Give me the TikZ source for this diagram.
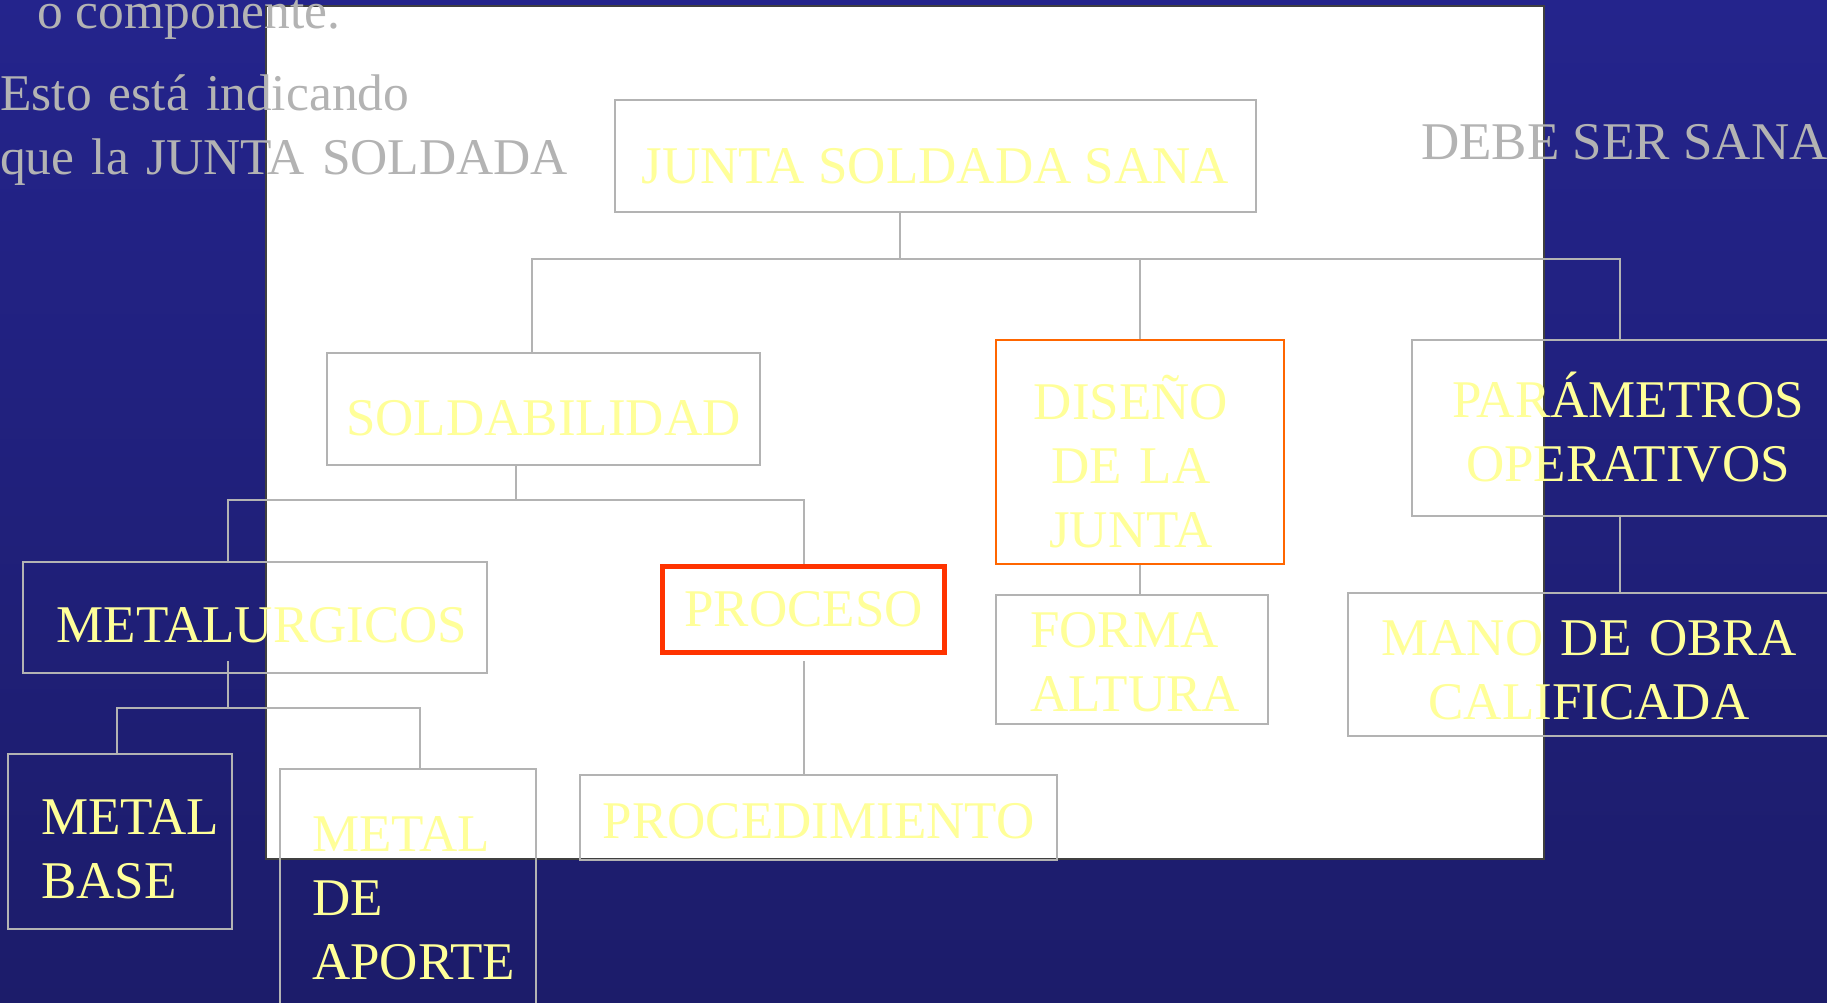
\documentclass[tikz,border=0pt]{standalone}
\usepackage{fontspec}
\setmainfont{Liberation Serif}
\definecolor{slideTop}{HTML}{24248C}
\definecolor{slideMid}{HTML}{3333CC}
\definecolor{slideBot}{HTML}{1C1C6A}
\definecolor{boxline}{HTML}{B3B3B3}
\definecolor{softyellow}{HTML}{FFFF99}
\definecolor{hotred}{HTML}{FF3300}
\definecolor{orangeline}{HTML}{FF6600}
\newcommand{\slidefont}{\fontsize{53}{64}\selectfont}
\newcommand{\notefont}{\fontsize{51.5}{64}\selectfont}
\begin{document}
\begin{tikzpicture}[x=1pt, y=-1pt,
	box/.style = {draw=boxline, line width=2pt, inner sep=0pt, text=softyellow, font=\slidefont},
	link/.style = {draw=boxline, line width=2pt},
	note/.style = {text=boxline, inner sep=0pt, font=\notefont}]
	\useasboundingbox (0,0) rectangle (1827,1002);
	\shade[top color=slideTop, middle color=slideMid, bottom color=slideBot] (0,0) rectangle (1827,1002);
	\draw[draw=black!75, line width=1.5pt, fill=white] (266,6) rectangle (1544,859);

	\node[note, anchor=base west] (comp) at (37,28) {o componente.};
	\node[note, anchor=base west, text width=700pt, align=left] (intro) at (0,110) {Esto está indicando\\que la JUNTA SOLDADA};
	\node[note, anchor=base west, font=\slidefont] (debe) at (1421,159) {DEBE SER SANA};

	\node[box, minimum width=641pt, minimum height=112pt, text height=54pt, text depth=0pt] (junta) at (935.5,156) {JUNTA SOLDADA SANA};
	\node[box, minimum width=433pt, minimum height=112pt, text height=52pt, text depth=0pt] (soldab) at (543.5,409) {SOLDABILIDAD};
	\node[box, draw=orangeline, minimum width=288pt, minimum height=224pt, text width=270pt, align=center, text height=34pt, text depth=100pt] (diseno) at (1140,452) {\mbox{DISEÑO\hspace{18pt}}\\\mbox{DE LA\hspace{18pt}}\\\mbox{JUNTA\hspace{18pt}}};
	\node[box, minimum width=432pt, minimum height=176pt, text width=400pt, align=center, text height=40pt, text depth=62pt] (param) at (1628,428) {PARÁMETROS\\OPERATIVOS};
	\node[box, minimum width=464pt, minimum height=111pt, text height=49pt, text depth=0pt] (metal) at (255,617.5) {\mbox{\hspace{14pt}METALURGICOS}};
	\node[box, draw=hotred, line width=5pt, minimum width=282pt, minimum height=86pt, text height=33pt, text depth=0pt] (proceso) at (803.5,609.5) {PROCESO};
	\node[box, minimum width=272pt, minimum height=129pt, text width=204pt, align=left, text height=34pt, text depth=59pt] (forma) at (1132,659.5) {FORMA\\ALTURA};
	\node[box, minimum width=482pt, minimum height=143pt, text width=460pt, align=center, text height=34pt, text depth=53pt] (mano) at (1589,664.5) {MANO DE OBRA\\CALIFICADA};
	\node[box, minimum width=224pt, minimum height=175pt, text width=158pt, align=left, text height=34pt, text depth=49pt] (base) at (120,841.5) {METAL\\BASE};
	\node[box, minimum width=256pt, minimum height=291pt, text width=192pt, align=left, text height=34pt, text depth=161pt] (aporte) at (408,914.5) {METAL\\DE\\APORTE};
	\node[box, minimum width=477pt, minimum height=85pt, text height=41pt, text depth=0pt] (procedim) at (818.5,817.5) {PROCEDIMIENTO};

	\coordinate (topbus) at (900,259);
	\coordinate (midbus) at (516,500);
	\coordinate (lowbus) at (228,708);
	\draw[link] ([xshift=-35.5pt]junta.south) -- (topbus);
	\draw[link] ([xshift=-11.5pt]soldab.north) |- (topbus) -| ([xshift=-8pt]param.north);
	\draw[link] (diseno.north) -- (diseno.north |- topbus);
	\draw[link] ([xshift=-27.5pt]soldab.south) -- (midbus);
	\draw[link] ([xshift=-27pt]metal.north) |- (midbus) -| (proceso.north);
	\draw[link] ([xshift=-27pt,yshift=13pt]metal.south) -- (lowbus);
	\draw[link] ([xshift=-3.5pt]base.north) |- (lowbus) -| ([xshift=12pt]aporte.north);
	\draw[link] ([yshift=-6pt]proceso.south) -- (proceso.south |- procedim.north);
	\draw[link] (diseno.south) -- (diseno.south |- forma.north);
	\draw[link] ([xshift=-8pt]param.south) -- ([xshift=-8pt]param.south |- mano.north);
\end{tikzpicture}
\end{document}
